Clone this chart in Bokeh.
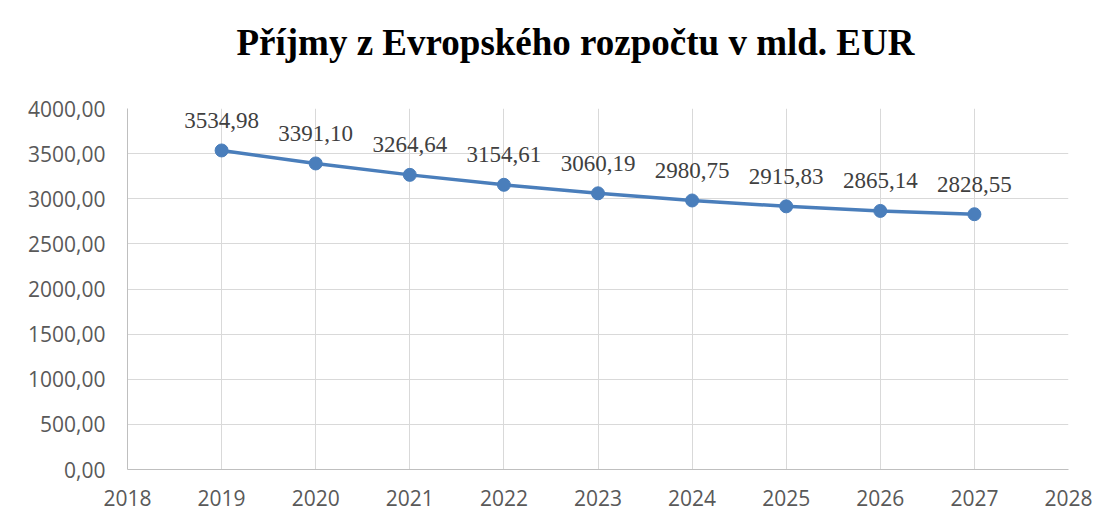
from bokeh.plotting import figure
from bokeh.models import Title, FixedTicker, CustomJSTickFormatter, Range1d, ColumnDataSource
from bokeh.core.properties import value
from bokeh.embed import file_html
from bokeh.resources import INLINE

years = [2019, 2020, 2021, 2022, 2023, 2024, 2025, 2026, 2027]
income = [3534.98, 3391.10, 3264.64, 3154.61, 3060.19, 2980.75, 2915.83, 2865.14, 2828.55]
x_ticks = list(range(2018, 2029))
y_ticks = [0, 500, 1000, 1500, 2000, 2500, 3000, 3500, 4000]
title_text = "Příjmy z Evropského rozpočtu v mld. EUR"

labels = [f"{v:.2f}".replace(".", ",") for v in income]
src = ColumnDataSource(dict(x=years, y=income, t=labels))

p = figure(width=1100, height=515, output_backend="svg", toolbar_location=None,
           x_range=Range1d(2018, 2028), y_range=Range1d(0, 4000),
           min_border_left=127, min_border_top=108, min_border_bottom=46, min_border_right=32)
p.title = None
p.background_fill_color = "white"
p.border_fill_color = "white"
p.outline_line_color = None

# spacer between frame and title (closest to frame)
p.add_layout(Title(text=" ", text_font_size="1px", standoff=43), "above")
p.add_layout(Title(text=title_text, align="left", text_font="Liberation Serif",
                   text_font_size="37px", text_font_style="bold", text_color="black",
                   standoff=0, offset=109), "above")

p.xgrid.ticker = FixedTicker(ticks=x_ticks)
p.ygrid.ticker = FixedTicker(ticks=y_ticks)
p.xgrid.grid_line_color = "#d9d9d9"
p.ygrid.grid_line_color = "#d9d9d9"
p.xgrid.grid_line_width = 1
p.ygrid.grid_line_width = 1

p.xaxis.ticker = FixedTicker(ticks=x_ticks)
p.yaxis.ticker = FixedTicker(ticks=y_ticks)
p.yaxis.formatter = CustomJSTickFormatter(code="return tick.toFixed(2).replace('.', ',');")
for ax in (p.xaxis, p.yaxis):
    ax.major_tick_line_color = None
    ax.minor_tick_line_color = None
    ax.major_tick_out = 0
    ax.major_tick_in = 0
    ax.axis_line_color = "#bfbfbf"
    ax.axis_line_width = 1
    ax.major_label_text_font = "Open Sans"
    ax.major_label_text_font_size = "21px"
    ax.major_label_text_color = "#595959"
p.yaxis.major_label_standoff = 22
p.xaxis.major_label_standoff = 20

p.line("x", "y", source=src, line_color="#4a7ebb", line_width=3.5)
p.scatter("x", "y", source=src, size=13, fill_color="#4a7ebb", line_color="#4a7ebb")
p.text("x", "y", text="t", source=src, text_font=value("Liberation Serif"), text_font_size="23px",
       text_color="#404040", text_align="center", text_baseline="middle", y_offset=-30)

open("out.html", "w").write(file_html(p, INLINE))
